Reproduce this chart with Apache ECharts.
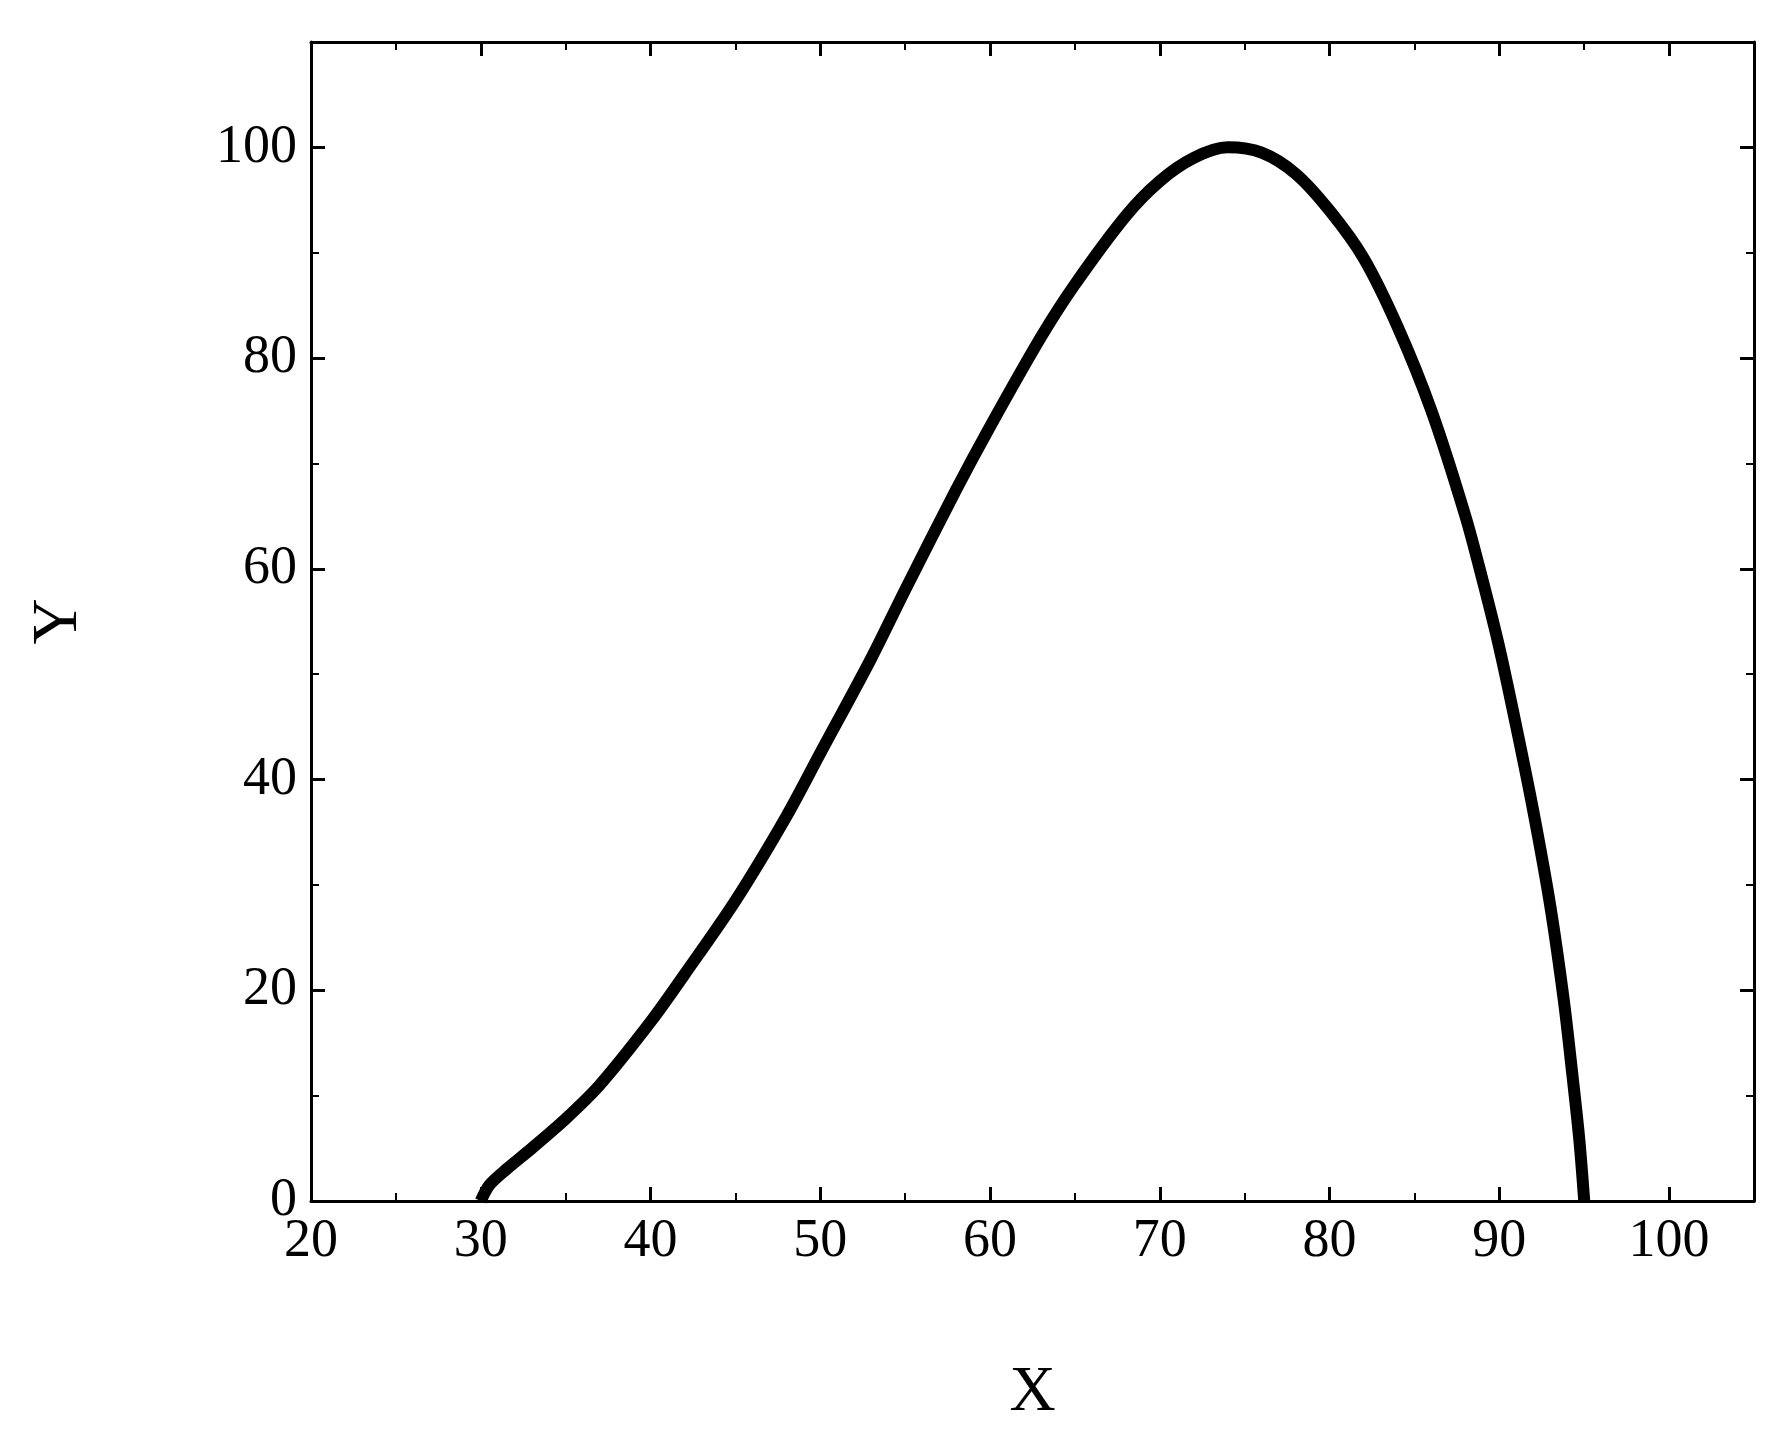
<!DOCTYPE html>
<html>
<head>
<meta charset="utf-8">
<script src="https://cdn.jsdelivr.net/npm/echarts@6/dist/echarts.min.js"></script>
<style>html,body{margin:0;background:#fff}#c{width:1785px;height:1445px}</style>
</head>
<body>
<div id="c"></div>
<script>
// 曲线数据
const xs = [30, 30.5, 31.5, 33, 35, 37, 40, 42, 45, 48, 50, 53, 55, 58, 60, 63, 65, 68, 70, 72, 74, 76, 78, 80, 82, 84, 86, 88, 89, 90, 91, 92, 93, 93.8, 94.3, 94.7, 95];
const ys = [0, 1.5, 3, 5, 7.8, 11, 17, 21.5, 28.5, 36.5, 42.5, 51.5, 58, 67.5, 73.5, 82, 87, 93.5, 96.8, 99, 100, 99.5, 97.5, 94, 89.5, 83, 75, 65, 59, 52.5, 45, 37, 28, 19, 12, 6, 0];

const font = '"Liberation Serif", "Times New Roman", serif';
let myChart = echarts.init(document.getElementById('c'));

function axisBase(show) {
  return {
    axisLine: { show: true, onZero: false, lineStyle: { color: '#000', width: 3 } },
    axisTick: { show: true, inside: true, length: 14, lineStyle: { color: '#000', width: 3 } },
    minorTick: { show: true, splitNumber: 2, length: 8, lineStyle: { color: '#000', width: 2 } },
    splitLine: { show: false },
    axisLabel: { show: show, color: '#000', fontFamily: font, fontSize: 54, margin: 14 }
  };
}

let option = {
  animation: false,
  grid: { left: 311, right: 31, top: 42, bottom: 244 },
  xAxis: [
    Object.assign({ type: 'value', min: 20, max: 105, interval: 10, position: 'bottom',
      name: 'X', nameLocation: 'middle', nameGap: 160,
      nameTextStyle: { color: '#000', fontFamily: font, fontSize: 64 } }, axisBase(true)),
    Object.assign({ type: 'value', min: 20, max: 105, interval: 10, position: 'top' }, axisBase(false))
  ],
  yAxis: [
    Object.assign({ type: 'value', min: 0, max: 110, interval: 20, position: 'left',
      name: 'Y', nameLocation: 'middle', nameGap: 220, nameRotate: 90,
      nameTextStyle: { color: '#000', fontFamily: font, fontSize: 64 } }, axisBase(true)),
    Object.assign({ type: 'value', min: 0, max: 110, interval: 20, position: 'right' }, axisBase(false))
  ],
  series: [{
    type: 'line',
    data: xs.map((x, i) => [x, ys[i]]),
    smooth: 0.3,
    showSymbol: false,
    lineStyle: { color: '#000', width: 12 }
  }]
};
option.xAxis[0].axisLabel.formatter = v => v > 100 ? '' : v;
option.yAxis[0].axisLabel.formatter = v => v > 100 ? '' : v;
myChart.setOption(option);
</script>
</body>
</html>
